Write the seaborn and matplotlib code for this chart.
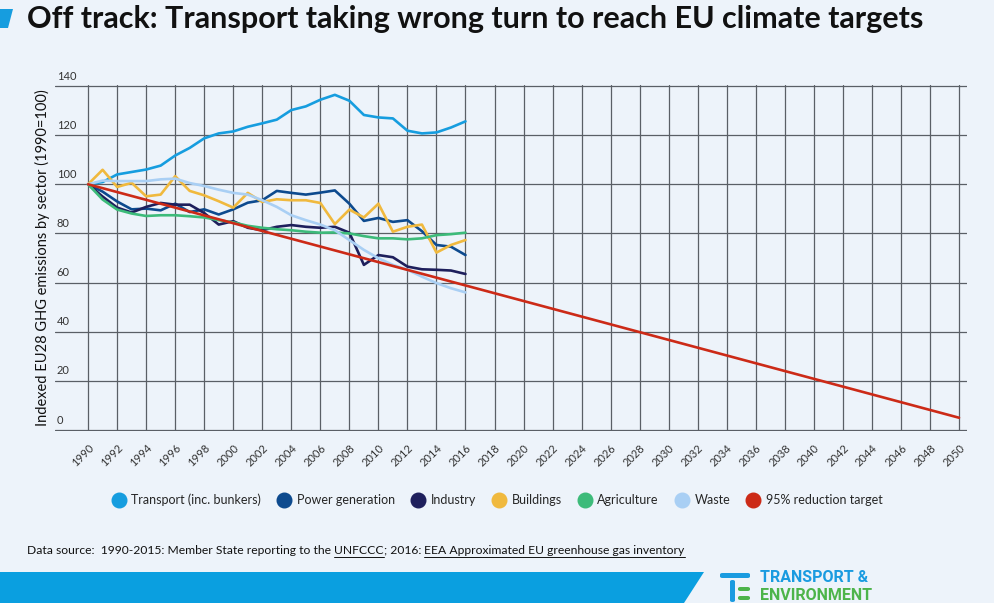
import numpy as np
import pandas as pd
import matplotlib
matplotlib.use("Agg")
import matplotlib.pyplot as plt
import matplotlib.transforms as mtrans
from matplotlib.lines import Line2D
from matplotlib.patches import Polygon, FancyBboxPatch
import seaborn as sns

# --- Data ---
years = list(range(1990, 2017))

transport = [100, 100.9, 104.0, 105.0, 106.0, 107.6, 111.7, 114.8, 118.7, 120.7,
             121.5, 123.4, 124.8, 126.3, 130.2, 131.7, 134.4, 136.4, 134.0, 128.2,
             127.2, 126.8, 121.8, 120.7, 121.1, 123.1, 125.6]
power = [100, 97.0, 93.0, 89.8, 90.1, 89.4, 92.1, 88.7, 89.8, 87.7,
         89.8, 92.5, 93.5, 97.3, 96.5, 95.8, 96.6, 97.5, 92.1, 85.1,
         86.3, 84.7, 85.4, 80.9, 75.3, 74.6, 71.2]
industry = [100, 95.0, 90.5, 88.5, 90.8, 92.4, 91.7, 91.7, 88.3, 83.6,
            85.0, 82.3, 81.3, 82.7, 83.4, 82.7, 82.3, 82.7, 80.3, 67.2,
            71.2, 70.3, 66.5, 65.4, 65.2, 64.9, 63.5]
buildings = [100, 105.9, 98.9, 100.6, 95.1, 95.8, 103.3, 97.3, 95.5, 93.1,
             90.5, 96.5, 92.8, 93.9, 93.5, 93.5, 92.4, 83.8, 89.7, 86.5,
             92.1, 80.7, 82.7, 83.6, 72.2, 75.3, 77.3]
agriculture = [100, 93.8, 89.7, 88.1, 87.1, 87.4, 87.4, 87.0, 86.5, 85.4,
               84.5, 83.1, 82.3, 81.7, 81.3, 80.7, 80.3, 80.4, 80.0, 78.9,
               78.0, 78.0, 77.6, 78.0, 79.3, 79.7, 80.3]
waste = [100, 101.5, 101.3, 101.3, 101.3, 102.0, 102.3, 100.5, 99.3, 97.8,
         96.5, 95.8, 93.5, 90.8, 87.4, 85.4, 83.6, 81.3, 77.3, 73.3,
         69.9, 67.2, 65.2, 62.4, 59.8, 57.7, 56.0]

target_years = [1990, 2050]
target = [100, 5]

series_names = ["Transport (inc. bunkers)", "Power generation", "Industry",
                "Buildings", "Agriculture", "Waste", "95% reduction target"]
colors = ["#169ddf", "#0d4a8e", "#1e1f5c", "#f0b93e", "#3dbb7a", "#a9cff4", "#cc2a17"]

rows = []
for name, vals in zip(series_names[:6], [transport, power, industry, buildings, agriculture, waste]):
    for y, v in zip(years, vals):
        rows.append({"year": y, "value": v, "sector": name})
for y, v in zip(target_years, target):
    rows.append({"year": y, "value": v, "sector": series_names[6]})
df = pd.DataFrame(rows)

xticks = list(range(1990, 2051, 2))
yticks = list(range(0, 141, 20))

bg = "#edf3fa"
grid_col = "#5a5f66"
text_col = "#333333"

sns.set_style("white")
plt.rcParams["font.family"] = ["Lato", "DejaVu Sans"]

fig = plt.figure(figsize=(9.94, 6.03), dpi=100, facecolor=bg)
ax = fig.add_axes([55 / 994, 1 - 431 / 603, (967 - 55) / 994, (431 - 85) / 603])
ax.set_facecolor(bg)

sns.lineplot(data=df, x="year", y="value", hue="sector", hue_order=series_names,
             palette=dict(zip(series_names, colors)), linewidth=1.9, legend=False,
             ax=ax, zorder=3)

ax.set_xlim(1987.72, 2050.55)
ax.set_ylim(-0.4, 140.4)
ax.set_xticks(xticks)
ax.set_xticklabels([str(x) for x in xticks], rotation=45, ha="right",
                   rotation_mode="anchor", fontsize=8, color=text_col)
shift = mtrans.ScaledTranslation(5 / 100, 0, fig.dpi_scale_trans)
for lab in ax.get_xticklabels():
    lab.set_transform(lab.get_transform() + shift)
ax.tick_params(axis="x", length=0, pad=8)
ax.set_yticks(yticks)
ax.set_yticklabels([])
ax.tick_params(axis="y", length=0)
ax.grid(True, color=grid_col, linewidth=0.9)
for s in ax.spines.values():
    s.set_visible(False)
ax.set_xlabel("")
ax.set_ylabel("Indexed EU28 GHG emissions by sector (1990=100)", fontsize=10.5,
              color="#111111")
ax.yaxis.set_label_coords(-0.005, 0.5)

# y tick labels sit above the gridlines, at the left
for v in yticks:
    ax.text(0.002, v + 1.8, str(v), transform=ax.get_yaxis_transform(),
            fontsize=8, color=text_col, ha="left", va="bottom")

# --- Legend ---
handles = [Line2D([0], [0], marker="o", linestyle="", markersize=10.5,
                  markerfacecolor=c, markeredgecolor=c) for c in colors]
fig.legend(handles, series_names, loc="center", bbox_to_anchor=(0.5, 1 - 500 / 603),
           ncol=7, frameon=False, fontsize=9, handletextpad=0.4, columnspacing=1.25,
           handlelength=1.2)

# --- Title ---
fig.text(27 / 994, 1 - 19 / 603, "Off track: Transport taking wrong turn to reach EU climate targets",
         fontsize=22, fontweight="bold", color="#111111", va="center", ha="left")
fig.patches.append(Polygon([[0, 1 - 9 / 603], [13 / 994, 1 - 9 / 603], [8 / 994, 1 - 28 / 603],
                            [0, 1 - 28 / 603]], closed=True, transform=fig.transFigure,
                           facecolor="#169ddf", edgecolor="none"))

# --- Source line with underlined links ---
fig.canvas.draw()
renderer = fig.canvas.get_renderer()
parts = [("Data source:  1990-2015: Member State reporting to the ", False),
         ("UNFCCC", True), ("; 2016: ", False),
         ("EEA Approximated EU greenhouse gas inventory", True)]
x_px = 27
y_fig = 1 - 550 / 603
for txt, underline in parts:
    t = fig.text(x_px / 994, y_fig, txt, fontsize=8.7, color="#111111", va="center", ha="left")
    bb = t.get_window_extent(renderer=renderer)
    if underline:
        fig.add_artist(Line2D([bb.x0 / 994, bb.x1 / 994], [(bb.y0 - 1) / 603] * 2,
                              transform=fig.transFigure, color="#111111", linewidth=0.7))
    x_px = bb.x1

# --- Bottom band and logo ---
fig.patches.append(Polygon([[0, 1 - 572 / 603], [704 / 994, 1 - 572 / 603],
                            [684 / 994, 0], [0, 0]], closed=True, transform=fig.transFigure,
                           facecolor="#0a9fe0", edgecolor="none"))
logo_blue = "#1a9be0"
logo_green = "#4db44a"
rs = "round,pad=0,rounding_size=0.0025"
fig.patches.append(FancyBboxPatch((720 / 994, 1 - 578 / 603), 30 / 994, 5 / 603, boxstyle=rs,
                                  transform=fig.transFigure, facecolor=logo_blue, edgecolor="none"))
fig.patches.append(FancyBboxPatch((730 / 994, 1 - 602 / 603), 5 / 994, 22 / 603, boxstyle=rs,
                                  transform=fig.transFigure, facecolor=logo_blue, edgecolor="none"))
for yy in (591, 600):
    fig.patches.append(FancyBboxPatch((738 / 994, 1 - yy / 603), 12 / 994, 4 / 603, boxstyle=rs,
                                      transform=fig.transFigure, facecolor=logo_green,
                                      edgecolor="none"))
logo_font = ["Roboto", "DejaVu Sans"]
fig.text(760 / 994, 1 - 578 / 603, "TRANSPORT &", fontsize=11.5, fontweight="bold",
         color=logo_blue, va="center", ha="left", family=logo_font)
fig.text(760 / 994, 1 - 595 / 603, "ENVIRONMENT", fontsize=11.5, fontweight="bold",
         color=logo_green, va="center", ha="left", family=logo_font)

fig.savefig("out.png", dpi=100, facecolor=bg)
